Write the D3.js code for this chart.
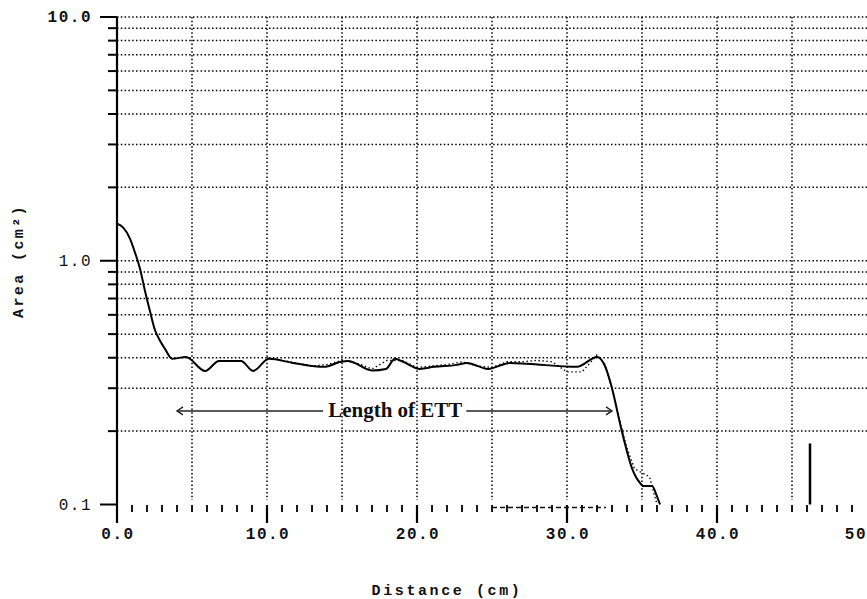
<!DOCTYPE html>
<html>
<head>
<meta charset="utf-8">
<script src="https://cdn.jsdelivr.net/npm/d3@7"></script>
<style>
  body { margin: 0; background: #fff; }
  text { fill: #111; }
</style>
</head>
<body>
<div id="plot"></div>
<script>
// main trace: distance (cm) and area (cm^2)
const distance = [0, 0.4, 0.87, 1.2, 1.53, 1.87, 2.2, 2.53, 2.87, 3.2, 3.67, 4.6, 5.87, 6.8, 8.27, 9.07,
  10.13, 11.73, 13.8, 14.93, 15.4, 17.0, 17.93, 18.53, 19.07, 20.2, 21.13, 22.67, 23.33, 24.73,
  26.2, 27.33, 30.67, 32.0, 32.53, 33.0, 33.53, 33.87, 34.33, 34.87, 35.1, 35.67, 36.0, 36.2];
const area = [1.42, 1.37, 1.23, 1.08, 0.93, 0.75, 0.62, 0.52, 0.47, 0.435, 0.396, 0.403, 0.353, 0.388, 0.388, 0.353,
  0.396, 0.381, 0.367, 0.385, 0.388, 0.355, 0.36, 0.396, 0.385, 0.36, 0.367, 0.374, 0.381, 0.36,
  0.381, 0.378, 0.367, 0.403, 0.37, 0.30, 0.216, 0.177, 0.141, 0.1225, 0.119, 0.119, 0.108, 0.1];

// second (dotted) trace
const distance2 = [10, 11, 12, 13, 14, 15, 16, 17, 18, 19, 20, 21, 22, 23, 24, 25, 26, 27, 28, 29, 30, 31,
  32, 32.5, 33, 33.6, 34, 34.5, 35, 35.5, 36];
const area2 = [0.40, 0.39, 0.38, 0.37, 0.375, 0.39, 0.38, 0.36, 0.39, 0.39, 0.365, 0.37, 0.375, 0.385, 0.37, 0.365,
  0.385, 0.385, 0.39, 0.385, 0.35, 0.35, 0.41, 0.38, 0.30, 0.21, 0.17, 0.14, 0.135, 0.13, 0.10];

// second trace lying on the floor of the scale
const floorFrom = 25, floorTo = 32.6;

// isolated spike
const spikeAt = 46.2;
const spikeArea = [0.1, 0.178];

const yTickValues = [0.1, 1.0, 10.0];
const yTickLabels = ["0.1", "1.0", "10.0"];
const xTickValues = [0, 10, 20, 30, 40, 50];
const xTickLabels = ["0.0", "10.0", "20.0", "30.0", "40.0", "50"];

const noteText = "Length of ETT";
const noteFrom = 4.0, noteTo = 33.0, noteMid = 18.55, noteArea = 0.242;

const svgWidth = 867, svgHeight = 599;
const svg = d3.select("#plot").append("svg")
  .attr("width", svgWidth)
  .attr("height", svgHeight);

const x = d3.scaleLinear().domain([0, 50]).range([117, 867]);
const y = d3.scaleLog().domain([0.1, 10]).range([504.5, 17]);

const mono = "'Liberation Mono', 'DejaVu Sans Mono', monospace";
const isMajor = d => [0.1, 1, 10].some(v => Math.abs(v - d) < 1e-9);

// grid
const logTicks = y.ticks().filter(v => v > 0.1 + 1e-9);
svg.append("g").selectAll("line")
  .data(logTicks)
  .enter().append("line")
  .attr("x1", x(0)).attr("x2", x(50))
  .attr("y1", d => y(d)).attr("y2", d => y(d))
  .attr("stroke", "#000").attr("stroke-width", 1.5)
  .attr("stroke-dasharray", "1.5,2.3");

svg.append("g").selectAll("line")
  .data(d3.range(5, 50, 5))
  .enter().append("line")
  .attr("x1", d => x(d)).attr("x2", d => x(d))
  .attr("y1", y(10)).attr("y2", 500)
  .attr("stroke", "#000").attr("stroke-width", 1.5)
  .attr("stroke-dasharray", "1.5,2.3");

// y axis
svg.append("line")
  .attr("x1", x(0)).attr("x2", x(0))
  .attr("y1", y(10)).attr("y2", 523)
  .attr("stroke", "#000").attr("stroke-width", 2.2);

svg.append("g").selectAll("line")
  .data(y.ticks())
  .enter().append("line")
  .attr("x1", d => isMajor(d) ? 100 : 108)
  .attr("x2", x(0))
  .attr("y1", d => y(d)).attr("y2", d => y(d))
  .attr("stroke", "#000").attr("stroke-width", 2);

svg.append("g").selectAll("text")
  .data(yTickValues)
  .enter().append("text")
  .attr("x", 92)
  .attr("y", d => y(d) + 5)
  .attr("text-anchor", "end")
  .style("font-family", mono)
  .style("font-size", "16px")
  .style("font-weight", (d, i) => i === 2 ? "bold" : "normal")
  .style("letter-spacing", "1.5px")
  .text((d, i) => yTickLabels[i]);

// x ticks (no baseline)
svg.append("g").selectAll("line")
  .data(d3.range(1, 50))
  .enter().append("line")
  .attr("x1", d => x(d)).attr("x2", d => x(d))
  .attr("y1", 505)
  .attr("y2", d => d % 10 === 0 ? 523 : 512)
  .attr("stroke", "#000").attr("stroke-width", d => d % 10 === 0 ? 2.2 : 1.8);

svg.append("g").selectAll("text")
  .data(xTickValues)
  .enter().append("text")
  .attr("x", (d, i) => i === xTickValues.length - 1 ? svgWidth : x(d) + 1)
  .attr("y", 539)
  .attr("text-anchor", (d, i) => i === xTickValues.length - 1 ? "end" : "middle")
  .style("font-family", mono)
  .style("font-size", "16px")
  .style("font-weight", "bold")
  .style("letter-spacing", "1.5px")
  .text((d, i) => xTickLabels[i]);

// axis titles
svg.append("text")
  .attr("x", 447)
  .attr("y", 595)
  .attr("text-anchor", "middle")
  .style("font-family", mono)
  .style("font-size", "15px")
  .style("font-weight", "bold")
  .style("letter-spacing", "2.6px")
  .text("Distance (cm)");

svg.append("text")
  .attr("transform", "translate(23,261) rotate(-90)")
  .attr("text-anchor", "middle")
  .style("font-family", mono)
  .style("font-size", "15px")
  .style("font-weight", "bold")
  .style("letter-spacing", "2.4px")
  .text("Area (cm²)");

// second trace, dotted
const line = d3.line().x(d => x(d[0])).y(d => y(d[1]));
svg.append("path")
  .datum(d3.zip(distance2, area2))
  .attr("d", line)
  .attr("fill", "none")
  .attr("stroke", "#111")
  .attr("stroke-width", 1.4)
  .attr("stroke-dasharray", "1.5,2.5");

svg.append("line")
  .attr("x1", x(floorFrom)).attr("x2", x(floorTo))
  .attr("y1", y(0.1) + 3).attr("y2", y(0.1) + 3)
  .attr("stroke", "#111").attr("stroke-width", 1.4)
  .attr("stroke-dasharray", "5,3");

// main trace
svg.append("path")
  .datum(d3.zip(distance, area))
  .attr("d", line.curve(d3.curveMonotoneX))
  .attr("fill", "none")
  .attr("stroke", "#000")
  .attr("stroke-width", 2);

// spike
svg.append("line")
  .attr("x1", x(spikeAt)).attr("x2", x(spikeAt))
  .attr("y1", y(spikeArea[0])).attr("y2", y(spikeArea[1]))
  .attr("stroke", "#000").attr("stroke-width", 2.5);

// annotation
const ny = y(noteArea);
const note = svg.append("text")
  .attr("x", x(noteMid))
  .attr("y", ny + 6)
  .attr("text-anchor", "middle")
  .style("font-family", "'Liberation Serif', 'Times New Roman', serif")
  .style("font-size", "21px")
  .style("font-weight", "bold")
  .text(noteText);
const halfW = note.node().getComputedTextLength() / 2;

svg.append("line")
  .attr("x1", x(noteFrom)).attr("x2", x(noteMid) - halfW - 5)
  .attr("y1", ny).attr("y2", ny)
  .attr("stroke", "#222").attr("stroke-width", 1.4);
svg.append("line")
  .attr("x1", x(noteMid) + halfW + 4).attr("x2", x(noteTo))
  .attr("y1", ny).attr("y2", ny)
  .attr("stroke", "#222").attr("stroke-width", 1.4);

svg.append("path")
  .attr("d", `M${x(noteFrom) + 6},${ny - 4} L${x(noteFrom)},${ny} L${x(noteFrom) + 6},${ny + 4}`)
  .attr("fill", "none").attr("stroke", "#222").attr("stroke-width", 1.4);
svg.append("path")
  .attr("d", `M${x(noteTo) - 6},${ny - 4} L${x(noteTo)},${ny} L${x(noteTo) - 6},${ny + 4}`)
  .attr("fill", "none").attr("stroke", "#222").attr("stroke-width", 1.4);
</script>
</body>
</html>
